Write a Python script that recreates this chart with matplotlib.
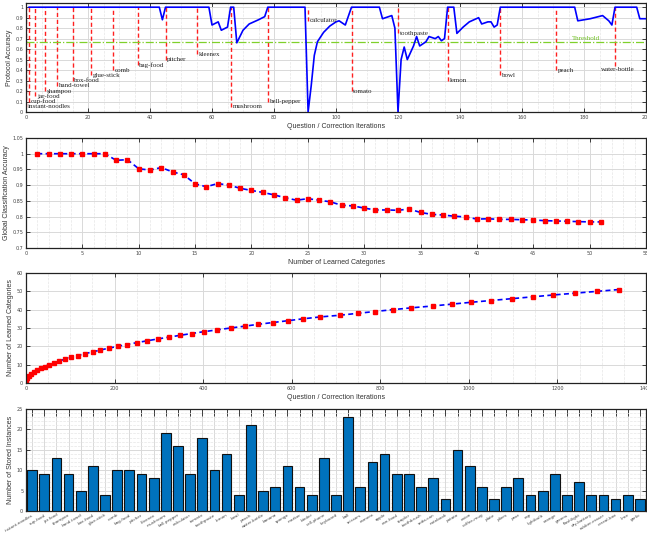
import matplotlib
matplotlib.use('Agg')
import matplotlib.pyplot as plt
from matplotlib.ticker import AutoMinorLocator, MultipleLocator, FuncFormatter

# --- top: protocol accuracy over question/correction iterations
iters = [1, 43, 44, 45, 59, 60, 62, 63, 65, 66, 67, 68, 70, 72, 75, 77, 78,
         90, 91, 92, 93, 94, 96, 98, 100, 101, 102, 103, 105,
         114, 115, 116, 118, 119, 120, 121, 122, 123, 125, 126, 127, 129, 130,
         132, 133, 134, 135, 136, 138, 139, 141, 143, 146, 147, 149, 150, 151,
         152, 153, 177, 178, 182, 186, 188, 189, 190, 197, 198, 200]
acc = [1, 1, 0.88, 1, 1, 0.83, 0.86, 0.78, 0.81, 1, 1, 0.66, 0.78, 0.84, 0.88, 0.91, 1,
       1, 0, 0.25, 0.54, 0.67, 0.76, 0.82, 0.86, 0.87, 0.85, 0.83, 1,
       1, 0.89, 0.9, 0.92, 0.8, 0, 0.5, 0.62, 0.5, 0.63, 0.72, 0.63, 0.67, 0.72,
       0.7, 0.72, 0.68, 0.7, 1, 1, 0.75, 0.81, 0.86, 0.9, 0.84, 0.86, 0.86, 0.81,
       0.83, 1, 1, 0.87, 0.89, 0.92, 0.87, 0.83, 1, 1, 0.89, 0.89]
new_iter = [0, 1, 3, 6, 10, 15, 21, 28, 36, 45, 55, 66, 78, 91, 105, 120, 136, 153, 171, 190]
new_names = ['instant-noodles', 'cup-food', 'jar-food', 'shampoo', 'hand-towel', 'box-food',
             'glue-stick', 'comb', 'bag-food', 'pitcher', 'kleenex', 'mushroom', 'bell-pepper',
             'calculator', 'tomato', 'toothpaste', 'lemon', 'bowl', 'peach', 'water-bottle']
new_label_y = [0.05, 0.1, 0.15, 0.2, 0.25, 0.3, 0.35, 0.4, 0.45, 0.5, 0.55, 0.05, 0.1,
               0.87, 0.2, 0.75, 0.3, 0.35, 0.4, 0.44]
threshold = 0.67

# --- second: global accuracy vs number of categories
n_cats = list(range(1, 52))
global_acc = [1.0, 1.0, 1.0, 1.0, 1.0, 1.0, 1.0, 0.979, 0.981, 0.952,
              0.948, 0.956, 0.942, 0.933, 0.904, 0.895, 0.905, 0.9, 0.89, 0.883,
              0.877, 0.869, 0.86, 0.852, 0.857, 0.852, 0.847, 0.836, 0.834, 0.827,
              0.821, 0.821, 0.82, 0.824, 0.813, 0.807, 0.805, 0.801, 0.799, 0.792,
              0.793, 0.791, 0.791, 0.79, 0.789, 0.787, 0.786, 0.785, 0.784, 0.783,
              0.783]

# --- third: learned categories vs iterations
learn_iter = [0, 1, 3, 7, 12, 18, 25, 33, 42, 52,
              64, 75, 88, 102, 117, 133, 151, 168, 187, 207,
              228, 250, 273, 297, 322, 348, 374, 402, 432, 462,
              494, 524, 558, 592, 625, 663, 710, 749, 788, 828,
              870, 918, 961, 1004, 1050, 1097, 1144, 1190, 1240, 1290,
              1340]

# --- bottom: stored instances per category
cats = ['instant-noodles', 'cup-food', 'jar-food', 'shampoo', 'hand-towel', 'box-food',
        'glue-stick', 'comb', 'bag-food', 'pitcher', 'kleenex', 'mushroom', 'bell-pepper',
        'calculator', 'tomato', 'toothpaste', 'lemon', 'bowl', 'peach', 'water-bottle',
        'banana', 'sponge', 'marker', 'binder', 'cell-phone', 'keyboard', 'ball',
        'scissors', 'camera', 'apple', 'can-food', 'stapler', 'toothbrush', 'soda-can',
        'notebook', 'potato', 'onion', 'coffee-mug', 'plate', 'pliers', 'pear', 'cap',
        'lightbulb', 'orange', 'greens', 'flashlight', 'dry-battery', 'rubber-eraser',
        'cereal-box', 'lime', 'garlic']
stored = [10, 9, 13, 9, 5, 11, 4, 10, 10, 9, 8, 19, 16, 9, 18, 10,
          14, 4, 21, 5, 6, 11, 6, 4, 13, 4, 23, 6, 12, 14, 9, 9, 6, 8,
          3, 15, 11, 6, 3, 6, 8, 4, 5, 9, 4, 7, 4, 4, 3, 4, 3]

lab_font = 'Liberation Sans'
fmt = FuncFormatter(lambda v, p: '%g' % round(v, 4))


def style(ax, xminor=True, yminor=False):
    ax.set_axisbelow(True)
    ax.tick_params(direction='in', top=True, right=True, labelsize=3.5,
                   length=3, width=0.6, pad=2, colors='#222', labelcolor='#444')
    if xminor:
        ax.xaxis.set_minor_locator(AutoMinorLocator())
    if yminor:
        ax.yaxis.set_minor_locator(MultipleLocator(1))
    ax.tick_params(which='minor', length=0)
    ax.grid(True, which='major', color='#d9d9d9', lw=0.7)
    ax.grid(True, which='minor', color='#e6e6e6', lw=0.5, ls='--')
    for s in ax.spines.values():
        s.set_linewidth(0.9)
        s.set_color('#222')


fig = plt.figure(figsize=(6.47, 5.33), dpi=100)
W = 620 / 647
L = 26 / 647

# top
ax1 = fig.add_axes([L, 1 - 112 / 533, W, 109 / 533])
style(ax1)
ax1.plot(iters, acc, color='#0000ff', lw=1.2, zorder=3)
last = len(new_iter) - 1
for i, (xi, name, yl) in enumerate(zip(new_iter, new_names, new_label_y)):
    ax1.plot([xi, xi], [yl, 1], color='#ff2020', ls='--', lw=1.0, dashes=(3, 2), zorder=2)
    if i == last:
        # last label sits centred under its line so it stays inside the axes
        ax1.text(xi + 1, yl - 0.03, name, fontsize=5, family='Liberation Serif',
                 va='center', ha='center', color='#222', zorder=4)
    else:
        ax1.text(xi + 0.6, yl, name, fontsize=5, family='Liberation Serif',
                 va='center', ha='left', color='#222', zorder=4)
ax1.axhline(threshold, color='#7fd02a', ls='-.', lw=0.9, zorder=2)
ax1.text(176, threshold + 0.035, 'Threshold', fontsize=5, family='Liberation Serif',
         color='#6cbf1e', va='center')
ax1.set_xlim(0, 200)
ax1.set_ylim(0, 1.04)
ax1.set_xticks(range(0, 201, 20))
ax1.set_yticks([i / 10 for i in range(11)])
ax1.yaxis.set_major_formatter(fmt)
ax1.set_xlabel('Question / Correction Iterations', fontsize=5, family=lab_font,
               color='#333', labelpad=2)
ax1.set_ylabel('Protocol Accuracy', fontsize=5, family=lab_font, color='#333', labelpad=2)

# second
ax2 = fig.add_axes([L, 1 - 248 / 533, W, 110 / 533])
style(ax2)
ax2.plot(n_cats, global_acc, color='#0000ff', ls='--', dashes=(3, 2), lw=1.2,
         marker='s', ms=3.2, mfc='#ff0000', mec='#ff0000')
ax2.set_xlim(0, 55)
ax2.set_ylim(0.7, 1.05)
ax2.set_xticks(range(0, 56, 5))
ax2.set_yticks([0.7, 0.75, 0.8, 0.85, 0.9, 0.95, 1.0, 1.05])
ax2.yaxis.set_major_formatter(fmt)
ax2.set_xlabel('Number of Learned Categories', fontsize=5, family=lab_font,
               color='#333', labelpad=2)
ax2.set_ylabel('Global Classification Accuracy', fontsize=5, family=lab_font,
               color='#333', labelpad=2)

# third
ax3 = fig.add_axes([L, 1 - 383 / 533, W, 110 / 533])
style(ax3)
ax3.plot(learn_iter, n_cats, color='#0000ff', ls='--', dashes=(3, 2), lw=1.2,
         marker='s', ms=3.2, mfc='#ff0000', mec='#ff0000')
ax3.set_xlim(0, 1400)
ax3.set_ylim(0, 60)
ax3.set_xticks(range(0, 1401, 200))
ax3.set_yticks(range(0, 61, 10))
ax3.set_xlabel('Question / Correction Iterations', fontsize=5, family=lab_font,
               color='#333', labelpad=2)
ax3.set_ylabel('Number of Learned Categories', fontsize=5, family=lab_font,
               color='#333', labelpad=2)

# bottom
ax4 = fig.add_axes([L, 1 - 511 / 533, W, 102 / 533])
style(ax4, xminor=False, yminor=True)
pos = list(range(1, len(cats) + 1))
ax4.bar(pos, stored, width=0.8, color='#0072bd', edgecolor='#111', lw=0.8, zorder=3)
ax4.set_xlim(0.5, len(cats) + 0.5)
ax4.set_ylim(0, 25)
ax4.set_yticks(range(0, 26, 5))
ax4.set_xticks(pos)
ax4.set_xticklabels(cats, rotation=30, ha='right', rotation_mode='anchor', fontsize=3)
ax4.tick_params(axis='x', length=5, pad=1.5)
ax4.set_ylabel('Number of Stored Instances', fontsize=5, family=lab_font,
               color='#333', labelpad=2)

fig.savefig('out.png', dpi=100)
